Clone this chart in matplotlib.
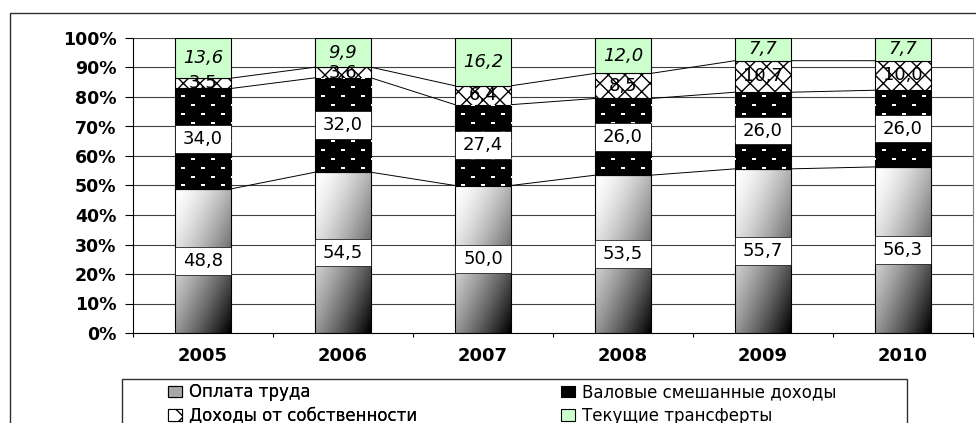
import numpy as np
import matplotlib.pyplot as plt
import matplotlib as mpl
from matplotlib.patches import Patch, Rectangle

mpl.rcParams["font.family"] = "DejaVu Sans"

years = ["2005", "2006", "2007", "2008", "2009", "2010"]
oplata = [48.8, 54.5, 50.0, 53.5, 55.7, 56.3]          # Оплата труда
valovye = [34.0, 32.0, 27.4, 26.0, 26.0, 26.0]         # Валовые смешанные доходы
dohody = [3.5, 3.6, 6.4, 8.5, 10.7, 10.0]              # Доходы от собственности
transfery = [13.6, 9.9, 16.2, 12.0, 7.7, 7.7]          # Текущие трансферты
series_names = ["Оплата труда", "Валовые смешанные доходы",
                "Доходы от собственности", "Текущие трансферты"]
yticks = [0, 10, 20, 30, 40, 50, 60, 70, 80, 90, 100]

raw = np.array([oplata, valovye, dohody, transfery])
pct = raw / raw.sum(axis=0) * 100
tops = np.cumsum(pct, axis=0)
bottoms = tops - pct
x = np.arange(len(years))
W = 0.4


def fmt(v):
    return f"{v:.1f}".replace(".", ",")


fig = plt.figure(figsize=(9.76, 4.23), dpi=100)
ax = fig.add_axes([133 / 976, 90 / 423, 840 / 976, 295 / 423])
ax.set_xlim(-0.5, 5.5)
ax.set_ylim(0, 100)

# gridlines
for yt in yticks[1:]:
    ax.axhline(yt, color="#404040", lw=0.8, zorder=0.5)

# series lines between bars
for j in range(3):
    for i in range(len(years) - 1):
        ax.plot([x[i] + W / 2, x[i + 1] - W / 2], [tops[j, i], tops[j, i + 1]],
                color="black", lw=0.7, zorder=1)

# gradient for Оплата труда
ny, nx = 80, 40
yf, xf = np.mgrid[0:1:ny * 1j, 0:1:nx * 1j]
t = 0.45 * xf + 0.55 * yf
grad = 1 - t ** 1.5

for i in range(len(years)):
    # Оплата труда
    ax.imshow(grad, cmap="gray", vmin=0, vmax=1, aspect="auto", interpolation="bilinear",
              extent=(x[i] - W / 2, x[i] + W / 2, bottoms[0, i], tops[0, i]), zorder=2)
    ax.bar(x[i], pct[0, i], W, bottom=bottoms[0, i], facecolor="none",
           edgecolor="black", lw=0.8, zorder=2.5)

    # Валовые смешанные доходы: black with white dots
    b = ax.bar(x[i], pct[1, i], W, bottom=bottoms[1, i], facecolor="black",
               edgecolor="black", lw=0.8, zorder=2)[0]
    dx, dy = 0.143, 3.05
    rows = np.arange(np.floor(bottoms[1, i] / dy), np.ceil(tops[1, i] / dy) + 1)
    px, py = [], []
    for r in rows:
        off = (r % 2) * dx / 2
        xs = np.arange(np.floor((x[i] - W) / dx) * dx + off, x[i] + W, dx)
        px.extend(xs)
        py.extend([r * dy + 1.2] * len(xs))
    sc = ax.scatter(px, py, marker=[(-1, -0.55), (1, -0.55), (1, 0.55), (-1, 0.55), (-1, -0.55)],
                    s=11, color="white", linewidths=0, zorder=2.2)
    sc.set_clip_path(b)

    # Доходы от собственности: cross hatch
    ax.bar(x[i], pct[2, i], W, bottom=bottoms[2, i], facecolor="white",
           edgecolor="black", hatch="xx", lw=0.8, zorder=2)

    # Текущие трансферты
    ax.bar(x[i], pct[3, i], W, bottom=bottoms[3, i], facecolor="#CCFFCC",
           edgecolor="black", lw=0.8, zorder=2)

    # labels
    for j in (0, 1):
        yc = (bottoms[j, i] + tops[j, i]) / 2
        ax.add_patch(Rectangle((x[i] - W / 2, yc - 4.7), W, 9.4, facecolor="white",
                               edgecolor="black", lw=0.5, zorder=3))
        ax.text(x[i], yc, fmt(raw[j, i]), ha="center", va="center", fontsize=13, zorder=4)
    ax.text(x[i], (bottoms[2, i] + tops[2, i]) / 2, fmt(raw[2, i]), ha="center",
            va="center", fontsize=13, zorder=4)
    ax.text(x[i], (bottoms[3, i] + tops[3, i]) / 2, fmt(raw[3, i]), ha="center",
            va="center", fontsize=13, style="italic", zorder=4)

ax.set_yticks(yticks)
ax.set_yticklabels([f"{v}%" for v in yticks], fontsize=12.5, fontweight="bold")
ax.tick_params(axis="y", direction="out", length=6, width=0.8, pad=6)
ax.set_xticks(np.arange(-0.5, 6, 1))
ax.set_xticklabels([])
ax.tick_params(axis="x", which="major", direction="out", length=3, width=0.8)
ax.set_xticks(x, minor=True)
ax.set_xticklabels(years, minor=True, fontsize=13, fontweight="bold")
ax.tick_params(axis="x", which="minor", length=0, pad=10)
ax.spines["top"].set_visible(False)
ax.spines["right"].set_color("#808080")
for s in ("left", "bottom"):
    ax.spines[s].set_linewidth(0.8)

# legend
h_opl = Patch(facecolor="#a8a8a8", edgecolor="black", lw=0.8)
h_val = Patch(facecolor="black", edgecolor="black", lw=0.8)
h_doh = Patch(facecolor="white", edgecolor="black", hatch="x", lw=0.8)
h_tr = Patch(facecolor="#CCFFCC", edgecolor="black", lw=0.8)
kw = dict(loc="upper left", frameon=False, fontsize=12, borderpad=0, borderaxespad=0,
          handlelength=0.85, handleheight=0.65, handletextpad=0.4, labelspacing=0.35)
leg1 = fig.legend([h_opl, h_doh], [series_names[0], series_names[2]],
                  bbox_to_anchor=(168 / 976, 1 - 383 / 423), **kw)
fig.legend([h_val, h_tr], [series_names[1], series_names[3]],
           bbox_to_anchor=(561 / 976, 1 - 383 / 423), **kw)
fig.add_artist(leg1)
fig.add_artist(Rectangle((122 / 976, -0.1), (907 - 122) / 976, 0.1 + (423 - 379) / 423,
                         transform=fig.transFigure, facecolor="none", edgecolor="#303030", lw=1))
# outer chart frame
fig.add_artist(Rectangle((10 / 976, -0.1), 1.2, 0.1 + 1 - 13 / 423,
                         transform=fig.transFigure, facecolor="none", edgecolor="#303030", lw=1))

fig.savefig("out.png", dpi=100)
